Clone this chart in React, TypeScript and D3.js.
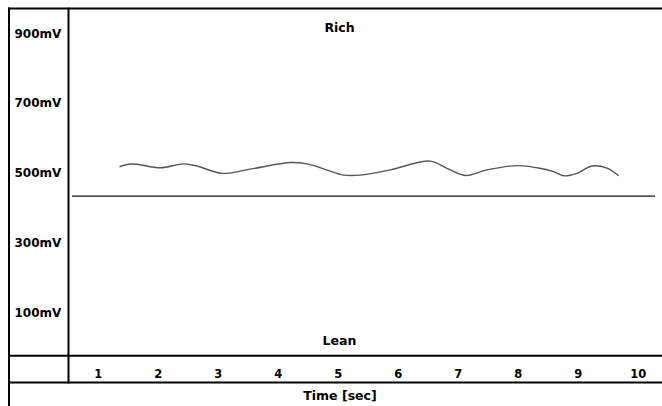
import React from "react";
import * as d3 from "d3";

const W = 662;
const H = 406;

const yTickValues = [900, 700, 500, 300, 100];
const yTickLabels = ["900mV", "700mV", "500mV", "300mV", "100mV"];
const xTickValues = [1, 2, 3, 4, 5, 6, 7, 8, 9, 10];
const xTickLabels = ["1", "2", "3", "4", "5", "6", "7", "8", "9", "10"];

const sensorTime = [
  1.355, 1.505, 1.645, 2.033, 2.422, 2.645, 3.062, 3.533, 4.2, 4.478, 4.755,
  5.088, 5.367, 5.867, 6.533, 6.812, 7.117, 7.478, 7.978, 8.312, 8.588, 8.755,
  8.978, 9.228, 9.478, 9.672,
];
const sensorMv = [
  518, 525, 525, 515, 526, 520, 499, 511, 530, 526, 512, 494, 494, 509, 534,
  513, 493, 509, 521, 515, 504, 492, 499, 520, 514, 492,
];
const thresholdMv = 434;
const topLabel = "Rich";
const bottomLabel = "Lean";
const xTitle = "Time [sec]";

const FONT = "'DejaVu Sans', sans-serif";

export default function App() {
  const x = d3.scaleLinear().domain([1, 10]).range([98.3, 638.3]);
  const y = d3.scaleLinear().domain([100, 900]).range([312.7, 33.3]);

  const pts: [number, number][] = sensorTime.map((t, i) => [t, sensorMv[i]]);
  const line = d3
    .line<[number, number]>()
    .x((d) => x(d[0]))
    .y((d) => y(d[1]))
    .curve(d3.curveCatmullRom.alpha(0.5));

  const plotLeft = 68.5;
  const rowTop = 355.7;
  const rowBottom = 382.5;

  return (
    <svg
      width={W}
      height={H}
      style={{ position: "absolute", left: 0, top: 0, background: "#fff" }}
    >
      <rect x={0} y={0} width={W} height={H} fill="#fff" />
      {/* frame */}
      <line x1={8} x2={W} y1={8.5} y2={8.5} stroke="#000" strokeWidth={2} />
      <line x1={9} x2={9} y1={7.5} y2={H} stroke="#000" strokeWidth={2} />
      <line x1={plotLeft} x2={plotLeft} y1={7.5} y2={rowBottom + 1} stroke="#000" strokeWidth={2} />
      <line x1={8} x2={W} y1={rowTop} y2={rowTop} stroke="#000" strokeWidth={2} />
      <line x1={8} x2={W} y1={rowBottom} y2={rowBottom} stroke="#000" strokeWidth={2} />

      {/* threshold */}
      <line
        x1={72}
        x2={655}
        y1={y(thresholdMv)}
        y2={y(thresholdMv)}
        stroke="#111"
        strokeWidth={1.3}
      />

      {/* sensor trace */}
      <path d={line(pts) || ""} fill="none" stroke="#555" strokeWidth={1.4} />

      {/* y labels */}
      {yTickValues.map((v, i) => (
        <text
          key={v}
          x={14.5}
          y={y(v) + 4.3}
          fontFamily={FONT}
          fontWeight="bold"
          fontSize={12}
          fill="#000"
        >
          {yTickLabels[i]}
        </text>
      ))}

      {/* x tick labels */}
      {xTickValues.map((v, i) => (
        <text
          key={v}
          x={x(v)}
          y={377.8}
          textAnchor="middle"
          fontFamily={FONT}
          fontWeight="bold"
          fontSize={11.5}
          fill="#000"
        >
          {xTickLabels[i]}
        </text>
      ))}

      <text
        x={339.5}
        y={31.5}
        textAnchor="middle"
        fontFamily={FONT}
        fontWeight="bold"
        fontSize={12.5}
        fill="#000"
      >
        {topLabel}
      </text>
      <text
        x={339.5}
        y={345}
        textAnchor="middle"
        fontFamily={FONT}
        fontWeight="bold"
        fontSize={12.5}
        fill="#000"
      >
        {bottomLabel}
      </text>
      <text
        x={340}
        y={400}
        textAnchor="middle"
        fontFamily={FONT}
        fontWeight="bold"
        fontSize={12.5}
        fill="#000"
      >
        {xTitle}
      </text>
    </svg>
  );
}
